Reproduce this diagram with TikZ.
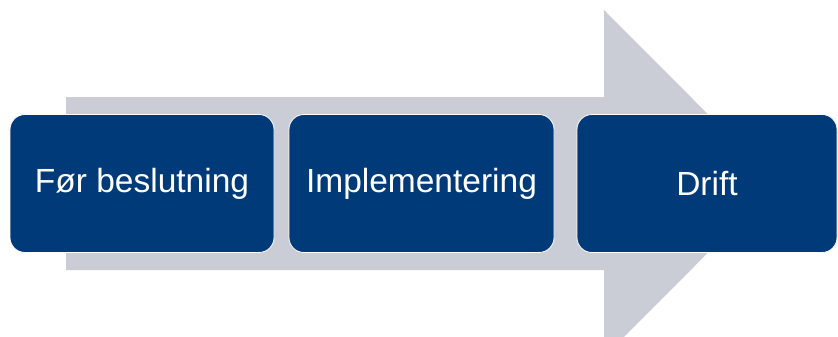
\documentclass[tikz,border=0pt]{standalone}
\usepackage{fontspec}
\setmainfont{Liberation Sans}
\definecolor{boxblue}{RGB}{0,58,120}
\definecolor{arrowgray}{RGB}{203,205,214}
\tikzset{
  phase/.style={rectangle, rounded corners=15pt, fill=boxblue, draw=white, line width=0.8pt,
    minimum height=138pt, inner sep=0pt, text=white,
    font=\fontsize{33.5}{38}\selectfont},
}
\begin{document}
\begin{tikzpicture}[x=1pt,y=-1pt]
\clip (0,0) rectangle (838,337);
\fill[white] (0,0) rectangle (838,337);
\fill[arrowgray] (66,97) -- (604,97) -- (604,10) -- (777,183.5) -- (604,357) -- (604,270) -- (66,270) -- cycle;
\node[phase, minimum width=264pt] (b1) at (142,183.5) {Før beslutning};
\node[phase, minimum width=265pt] (b2) at (421.5,183.5) {Implementering};
\node[phase, minimum width=260pt] (b3) at (707,183.5) {Drift};
\end{tikzpicture}
\end{document}
